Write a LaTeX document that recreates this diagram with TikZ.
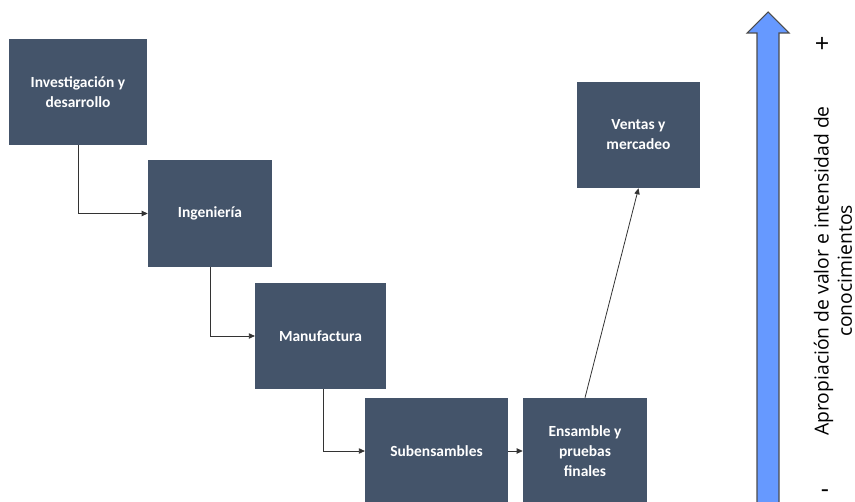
\documentclass[tikz,border=0pt]{standalone}
\usepackage{fontspec}
\setmainfont{Carlito}
\newfontfamily\axisfont{Open Sans}
\usepackage{xcolor}
\usepackage{tikz}
\usetikzlibrary{positioning,calc,arrows.meta}

\definecolor{boxblue}{RGB}{68,84,106}
\definecolor{axisblue}{RGB}{102,153,255}

\tikzset{
  stage/.style={draw=none, fill=boxblue, text=white, font=\bfseries\fontsize{11.6}{15}\selectfont,
    align=center, inner sep=0pt},
  link/.style={draw=black!80, line width=0.6pt, -{Triangle[length=4.5pt,width=4pt]}}
}

\begin{document}
\begin{tikzpicture}[x=0.75pt, y=-0.75pt]
	\useasboundingbox (0,0) rectangle (855,502);

	% value chain stages
	\node[stage, minimum width=103.5pt, minimum height=79.5pt] (inv) at (78,92) {Investigación y\\desarrollo};
	\node[stage, minimum width=93pt, minimum height=80pt] (ing) at (210,213.5) {Ingeniería};
	\node[stage, minimum width=98pt, minimum height=79.5pt] (man) at (320.5,336) {Manufactura};
	\node[stage, minimum width=107pt, minimum height=79.5pt] (sub) at (436.5,451) {Subensambles};
	\node[stage, minimum width=93pt, minimum height=79.5pt] (ens) at (585,451) {Ensamble y\\pruebas\\finales};
	\node[stage, minimum width=92pt, minimum height=79.5pt] (ven) at (638.5,135) {Ventas y\\mercadeo};

	% connectors
	\draw[link] (inv.south) |- (ing.west);
	\draw[link] (ing.south) |- (man.west);
	\draw[link] ([xshift=2pt]man.south) |- (sub.west);
	\draw[link] (sub.east) -- (ens.west);
	\draw[link] (ens.north) -- (ven.south);

	% value axis
	\draw[draw=black!70, line width=0.8pt, fill=axisblue]
		(768,12) -- (789,33) -- (779,33) -- (779,510) -- (757,510) -- (757,33) -- (747,33) -- cycle;
	\node[rotate=90, align=center, inner sep=0pt, font=\axisfont\fontsize{14.5}{17.5}\selectfont] (axis) at (833,271)
		{Apropiación de valor e intensidad de\\conocimientos};
	\node[font=\axisfont\fontsize{19}{22}\selectfont] (plus) at (822,45) {+};
	\node[font=\axisfont\fontsize{19}{22}\selectfont] (minus) at (825,494) {-};
\end{tikzpicture}
\end{document}
